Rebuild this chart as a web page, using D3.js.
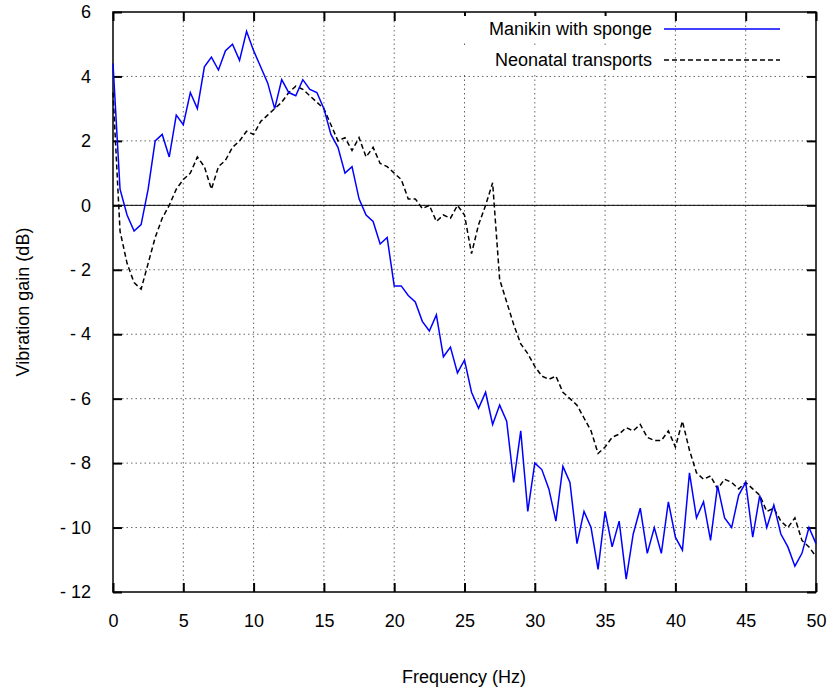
<!DOCTYPE html>
<html><head><meta charset="utf-8">
<script src="https://cdn.jsdelivr.net/npm/d3@7"></script>
<style>body{margin:0;background:#fff}svg{font-family:"Liberation Sans",Arial,sans-serif}</style>
</head><body><svg id="c" width="827" height="688"></svg>
<script>
// frequencies every 0.5 Hz, gains
var freq = d3.range(0, 50.01, 0.5);
var manikin = [4.4,0.5,-0.3,-0.8,-0.6,0.5,2,2.2,1.5,2.8,2.5,3.5,3.0,4.3,4.6,4.2,4.8,5.0,4.5,5.4,4.8,4.3,3.8,3.0,3.9,3.5,3.4,3.9,3.6,3.5,3.0,2.2,1.8,1.0,1.2,0.2,-0.3,-0.5,-1.2,-1.0,-2.5,-2.5,-2.8,-3.0,-3.6,-3.9,-3.4,-4.7,-4.4,-5.2,-4.8,-5.8,-6.3,-5.8,-6.8,-6.2,-6.7,-8.6,-7.0,-9.5,-8.0,-8.2,-8.8,-9.8,-8.1,-8.6,-10.5,-9.5,-10.0,-11.3,-9.5,-10.6,-9.8,-11.6,-10.2,-9.4,-10.8,-10.0,-10.8,-9.2,-10.3,-10.7,-8.3,-9.7,-9.2,-10.4,-8.7,-9.7,-10.0,-9.0,-8.6,-10.3,-9.0,-10.0,-9.3,-10.2,-10.6,-11.2,-10.8,-10.0,-10.5];
var neonatal = [3.5,-0.8,-1.8,-2.4,-2.6,-1.8,-1.0,-0.4,0.0,0.5,0.8,1.0,1.5,1.2,0.5,1.2,1.4,1.8,2.0,2.3,2.2,2.6,2.8,3.0,3.2,3.5,3.7,3.6,3.4,3.2,3.0,2.5,2.0,2.1,1.7,2.1,1.5,1.8,1.3,1.2,1.0,0.8,0.2,0.2,-0.1,0.0,-0.5,-0.3,-0.4,0.0,-0.3,-1.5,-0.6,0.0,0.7,-2.3,-3.0,-3.7,-4.3,-4.6,-5.0,-5.3,-5.4,-5.3,-5.8,-6.0,-6.2,-6.6,-7.0,-7.7,-7.5,-7.2,-7.1,-6.9,-7.0,-6.8,-7.2,-7.3,-7.3,-7.0,-7.5,-6.7,-7.6,-8.3,-8.5,-8.4,-8.8,-8.5,-8.6,-8.8,-8.6,-8.8,-9.0,-9.5,-9.4,-9.8,-10.0,-9.7,-10.4,-10.6,-10.9];
var xTicks = d3.range(0, 51, 5);
var yTicks = d3.range(-12, 7, 2);

var svg = d3.select("#c");
var x = d3.scaleLinear().domain([0, 50]).range([113, 816]);
var y = d3.scaleLinear().domain([-12, 6]).range([592, 12]);
var fmt = function(d){ return d < 0 ? "- " + (-d) : String(d); };

// grid
svg.selectAll(".gx").data(xTicks.slice(1, -1)).enter().append("line")
  .attr("x1", x).attr("x2", x).attr("y1", 12).attr("y2", 592)
  .attr("stroke", "#000").attr("stroke-width", 0.6).attr("stroke-dasharray", "1.5,3");
svg.selectAll(".gy").data(yTicks.slice(1, -1)).enter().append("line")
  .attr("y1", y).attr("y2", y).attr("x1", 113).attr("x2", 816)
  .attr("stroke", "#000").attr("stroke-width", 0.6).attr("stroke-dasharray", "1.5,3");
svg.append("line").attr("x1", 113).attr("x2", 816).attr("y1", y(0)).attr("y2", y(0)).attr("stroke", "#000");

// axes
svg.append("g").attr("transform", "translate(0,592)")
  .call(d3.axisBottom(x).tickValues(xTicks).tickSize(-9).tickPadding(22))
  .call(function(g){ g.select(".domain").remove(); g.selectAll("line").attr("stroke-width", 2); });
svg.append("g").attr("transform", "translate(0,12)")
  .call(d3.axisTop(x).tickValues(xTicks).tickSize(-9).tickFormat(""))
  .call(function(g){ g.select(".domain").remove(); g.selectAll("line").attr("stroke-width", 2); });
svg.append("g").attr("transform", "translate(113,0)")
  .call(d3.axisLeft(y).tickValues(yTicks).tickSize(-9).tickPadding(22).tickFormat(fmt))
  .call(function(g){ g.select(".domain").remove(); g.selectAll("line").attr("stroke-width", 2); });
svg.append("g").attr("transform", "translate(816,0)")
  .call(d3.axisRight(y).tickValues(yTicks).tickSize(-9).tickFormat(""))
  .call(function(g){ g.select(".domain").remove(); g.selectAll("line").attr("stroke-width", 2); });
svg.selectAll(".tick text").attr("font-size", 18).attr("fill", "#000");
svg.append("rect").attr("x", 113).attr("y", 12).attr("width", 703).attr("height", 580)
  .attr("fill", "none").attr("stroke", "#000").attr("stroke-width", 1.5);

// lines
var line = d3.line().x(function(d, i){ return x(freq[i]); }).y(function(d){ return y(d); });
svg.append("path").datum(neonatal).attr("d", line).attr("fill", "none")
  .attr("stroke", "#000").attr("stroke-width", 1.5).attr("stroke-dasharray", "5,3");
svg.append("path").datum(manikin).attr("d", line).attr("fill", "none")
  .attr("stroke", "#0000ff").attr("stroke-width", 1.5);

// legend
var legend = [["Manikin with sponge", "#0000ff", null], ["Neonatal transports", "#000", "5,3"]];
legend.forEach(function(l, i){
  var ly = 29 + i * 31;
  svg.append("rect").attr("x", 445).attr("y", ly - 13).attr("width", 210).attr("height", 26).attr("fill", "#fff");
  svg.append("text").attr("x", 652).attr("y", ly + 6).attr("text-anchor", "end").attr("font-size", 18).text(l[0]);
  svg.append("line").attr("x1", 664).attr("x2", 780).attr("y1", ly).attr("y2", ly)
    .attr("stroke", l[1]).attr("stroke-width", 1.5).attr("stroke-dasharray", l[2]);
});

svg.append("text").attr("x", 464).attr("y", 683).attr("text-anchor", "middle").attr("font-size", 18).text("Frequency (Hz)");
svg.append("text").attr("transform", "translate(29,302) rotate(-90)").attr("text-anchor", "middle").attr("font-size", 18).text("Vibration gain (dB)");
</script></body></html>
